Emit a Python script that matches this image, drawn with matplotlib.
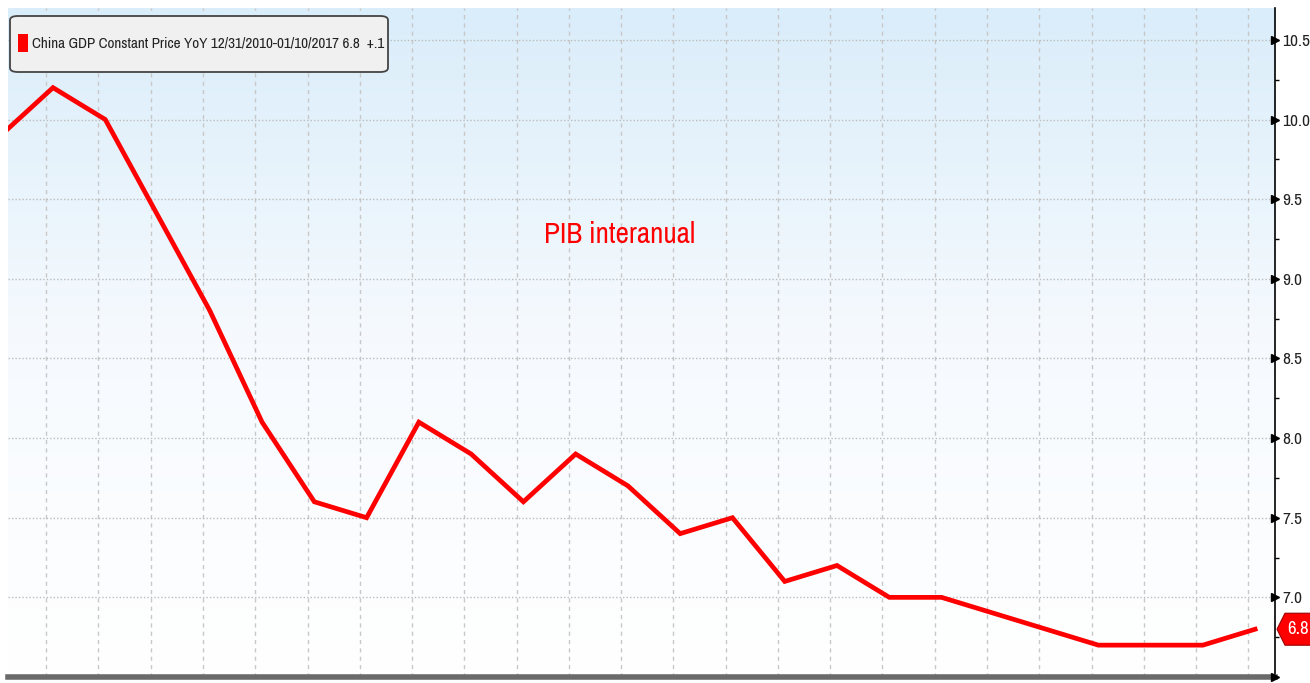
import numpy as np
import matplotlib.pyplot as plt
from matplotlib import font_manager
from matplotlib.colors import LinearSegmentedColormap
from matplotlib.patches import FancyBboxPatch, Polygon, Rectangle

# China GDP constant price YoY, quarterly Q4 2010 .. Q4 2016
quarters = ['2010Q4',
            '2011Q1', '2011Q2', '2011Q3', '2011Q4',
            '2012Q1', '2012Q2', '2012Q3', '2012Q4',
            '2013Q1', '2013Q2', '2013Q3', '2013Q4',
            '2014Q1', '2014Q2', '2014Q3', '2014Q4',
            '2015Q1', '2015Q2', '2015Q3', '2015Q4',
            '2016Q1', '2016Q2', '2016Q3', '2016Q4']
gdp_yoy = [9.9,
           10.2, 10.0, 9.4, 8.8,
           8.1, 7.6, 7.5, 8.1,
           7.9, 7.6, 7.9, 7.7,
           7.4, 7.5, 7.1, 7.2,
           7.0, 7.0, 6.9, 6.8,
           6.7, 6.7, 6.7, 6.8]
yticks = [7.0, 7.5, 8.0, 8.5, 9.0, 9.5, 10.0, 10.5]
legend_label = 'China GDP Constant Price YoY 12/31/2010-01/10/2017 6.8  +.1'

# look for a narrow face, Bloomberg charts use a condensed font
narrow = None
for f in font_manager.fontManager.ttflist:
    if 'Narrow' in f.name or 'Condensed' in f.name:
        narrow = dict(family=[f.name, 'DejaVu Sans'])
        break
if narrow is None:
    for f in font_manager.fontManager.ttflist:
        if f.stretch in ('condensed', 'semi-condensed', 'extra-condensed', 600, 500) and f.style == 'normal':
            narrow = dict(family=[f.name, 'DejaVu Sans'], stretch=f.stretch)
            break
if narrow is None:
    narrow = dict(family=['Liberation Sans', 'DejaVu Sans'])

W, H = 1310, 683
fig = plt.figure(figsize=(W / 100, H / 100), dpi=100)
fig.patch.set_facecolor('white')
ax = fig.add_axes([8 / W, 6 / H, (1275 - 8) / W, (677 - 8) / H])

x = np.arange(len(gdp_yoy))
xmin, xmax = 0.139, 24.38
ymin, ymax = 6.5, 10.7

# background gradient light blue -> white
cmap = LinearSegmentedColormap.from_list('bg', ['#ffffff', '#f6fafe', '#daedfa'])
grad = np.linspace(0, 1, 256).reshape(-1, 1)
ax.imshow(grad, cmap=cmap, origin='lower', aspect='auto',
          extent=[xmin, xmax, ymin, ymax], zorder=0)

# grid
for gx in np.arange(-1, 25) + 0.87:
    if xmin < gx < xmax:
        ax.axvline(gx, color='#c8c8c8', lw=1, ls=(0, (3, 3)), zorder=1)
for gy in yticks:
    ax.axhline(gy, color='#bcbcbc', lw=1, ls=(0, (1, 1.5)), zorder=1)

ax.plot(x, gdp_yoy, color='#ff0000', lw=3.4, solid_joinstyle='miter', zorder=3)

ax.set_xlim(xmin, xmax)
ax.set_ylim(ymin, ymax)
ax.set_xticks([])

ax.yaxis.tick_right()
ax.set_yticks(yticks)
ax.set_yticklabels(['%.1f' % v for v in yticks], fontsize=12.5, color='#222222', **narrow)
ax.set_yticks(np.arange(6.75, 10.6, 0.5), minor=True)
ax.tick_params(axis='y', which='major', length=0, pad=5.5)
ax.tick_params(axis='y', which='minor', length=3, width=1, color='black', direction='out')
for v in yticks + [6.5]:
    ax.plot([1.0], [v], marker='>', color='black', markersize=6, clip_on=False,
            transform=ax.get_yaxis_transform(), zorder=5)

for s in ['top', 'left']:
    ax.spines[s].set_visible(False)
ax.spines['right'].set_color('black')
ax.spines['right'].set_linewidth(1.2)
ax.spines['bottom'].set_color('#6a6a6a')
ax.spines['bottom'].set_linewidth(4)

# last value badge (pentagon pointing at the axis)
fig.canvas.draw()
bx, by = ax.get_yaxis_transform().transform((1.0, gdp_yoy[-1]))
bx = bx + 2
pts = [(bx, by), (bx + 8, by + 16), (W + 5, by + 16), (W + 5, by - 16), (bx + 8, by - 16)]
badge = Polygon([(px / W, py / H) for px, py in pts], closed=True, transform=fig.transFigure,
                fc='#ff0000', ec='#990000', lw=0.8, zorder=10, clip_on=False)
fig.patches.append(badge)
fig.text((bx + 10) / W, by / H, '%.1f' % gdp_yoy[-1], color='white', fontsize=13.5,
         ha='left', va='center', zorder=11, **narrow)

# legend box
box = FancyBboxPatch((10 / W, 1 - 72 / H), 378 / W, 56 / H, transform=fig.transFigure,
                     boxstyle='round,pad=0,rounding_size=0.006', fc='#f0f0f0',
                     ec='#444444', lw=1.3, zorder=10)
fig.patches.append(box)
fig.patches.append(Rectangle((18 / W, 1 - 52 / H), 10 / W, 18 / H, transform=fig.transFigure,
                             fc='#ff0000', ec='none', zorder=11))
fig.text(32 / W, 1 - 44 / H, legend_label, fontsize=10.9, color='#222222',
         va='center', ha='left', zorder=11, **narrow)

ax.text(11.85, 9.28, 'PIB interanual', color='#ff0000', fontsize=21, ha='center',
        va='center', zorder=4, **narrow)

fig.savefig('out.png', dpi=100)
